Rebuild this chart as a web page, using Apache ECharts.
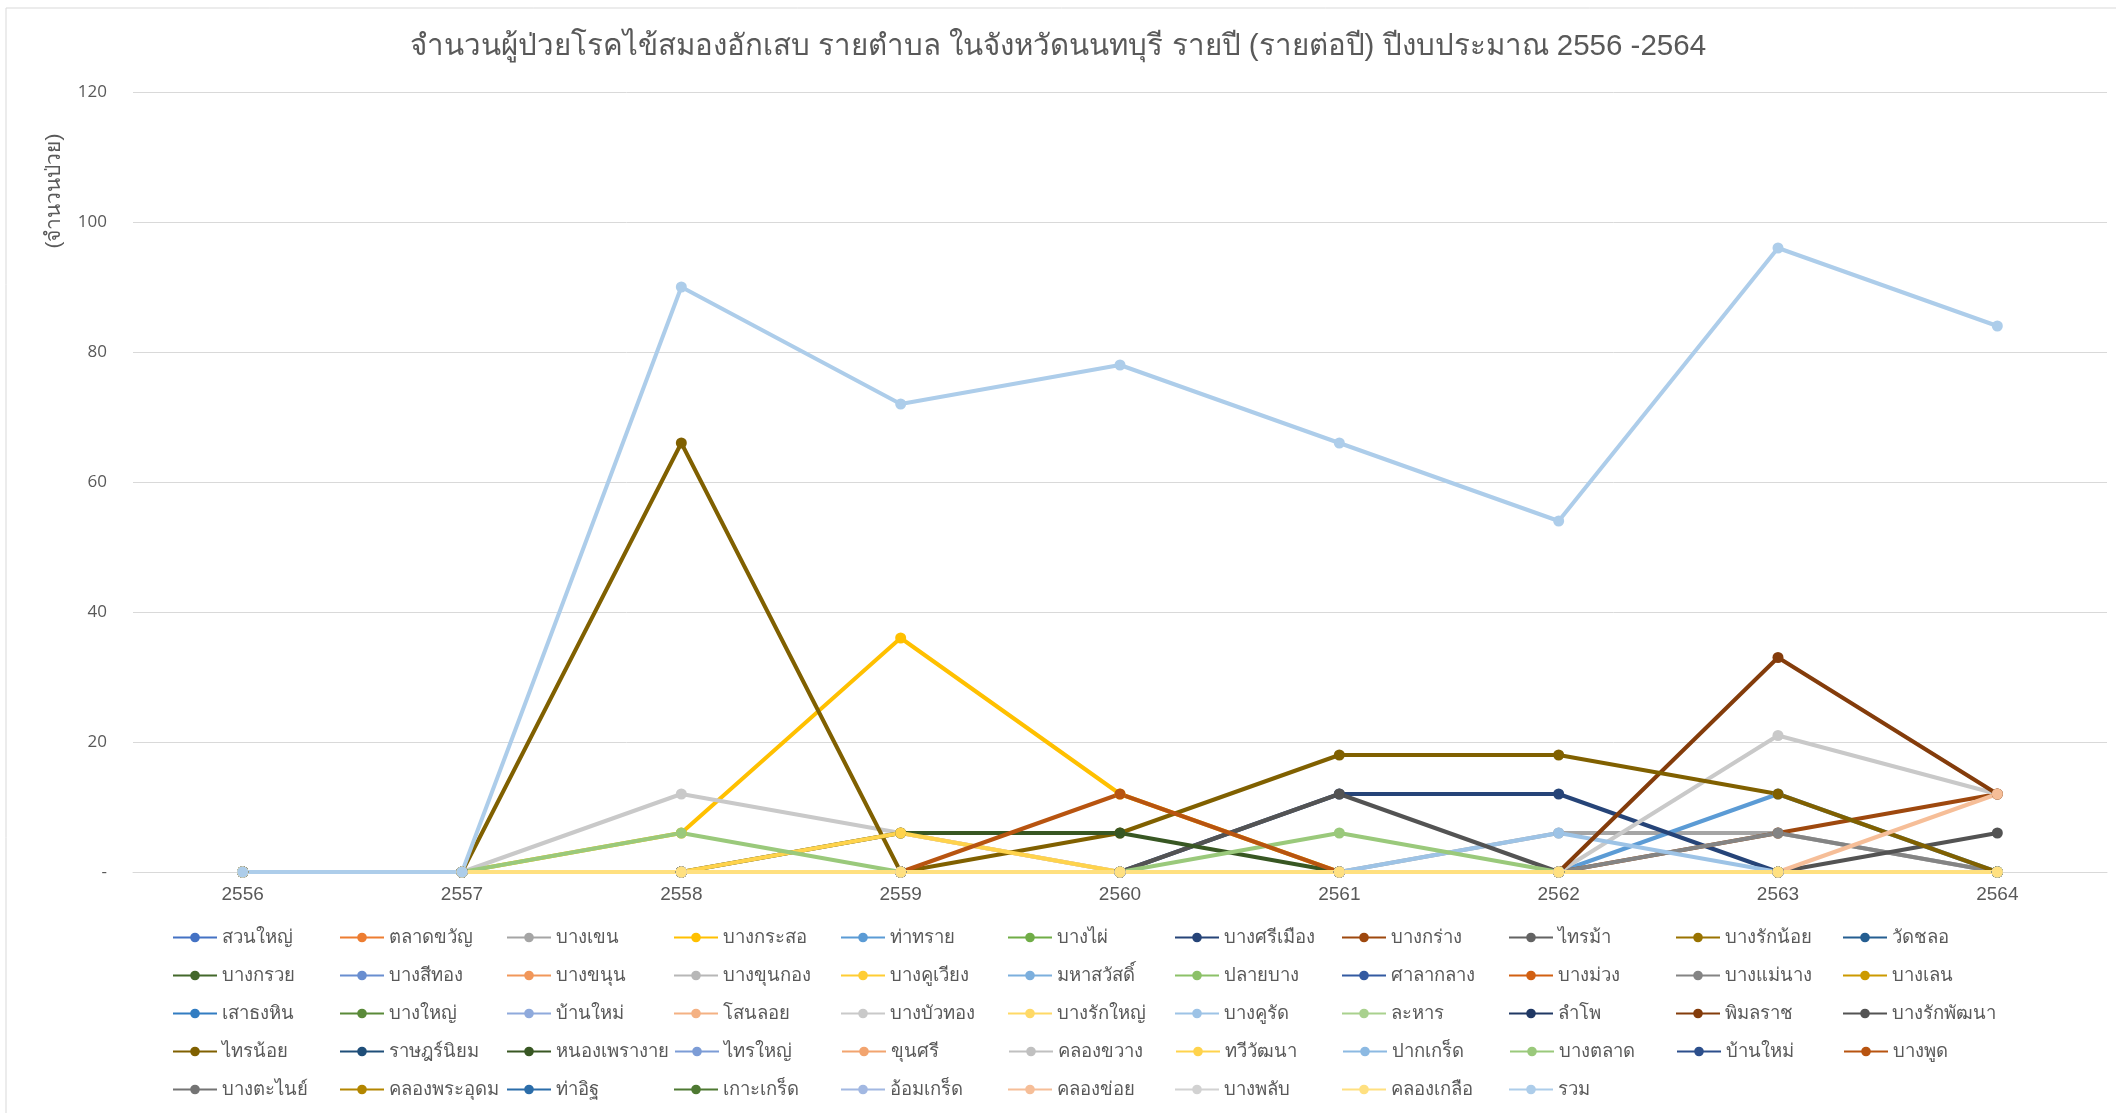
<!DOCTYPE html>
<html>
<head>
<meta charset="utf-8">
<script src="https://cdn.jsdelivr.net/npm/echarts@6/dist/echarts.min.js"></script>
<style>
html,body{margin:0;padding:0;background:#fff;}
#c{width:2116px;height:1113px;}
</style>
</head>
<body>
<div id="c"></div>
<script>
// ---------- data ----------
const years = ['2556','2557','2558','2559','2560','2561','2562','2563','2564'];
const names = [
  'สวนใหญ่','ตลาดขวัญ','บางเขน','บางกระสอ','ท่าทราย','บางไผ่','บางศรีเมือง','บางกร่าง','ไทรม้า','บางรักน้อย','วัดชลอ',
  'บางกรวย','บางสีทอง','บางขนุน','บางขุนกอง','บางคูเวียง','มหาสวัสดิ์','ปลายบาง','ศาลากลาง','บางม่วง','บางแม่นาง','บางเลน',
  'เสาธงหิน','บางใหญ่','บ้านใหม่','โสนลอย','บางบัวทอง','บางรักใหญ่','บางคูรัด','ละหาร','ลำโพ','พิมลราช','บางรักพัฒนา',
  'ไทรน้อย','ราษฎร์นิยม','หนองเพรางาย','ไทรใหญ่','ขุนศรี','คลองขวาง','ทวีวัฒนา','ปากเกร็ด','บางตลาด','บ้านใหม่ ','บางพูด',
  'บางตะไนย์','คลองพระอุดม','ท่าอิฐ','เกาะเกร็ด','อ้อมเกร็ด','คลองข่อย','บางพลับ','คลองเกลือ','รวม'
];
const zeroRow      = [0, 0,  0,  0,  0,  0,  0,  0,  0];
const bangKhen     = [0, 0,  0,  0,  0,  0,  6,  6,  0];
const bangKrasor   = [0, 0,  6, 36, 12,  0,  0,  0,  0];
const thaSai       = [0, 0,  0,  0,  0,  0,  0, 12,  0];
const bangSriMuang = [0, 0,  0,  0,  0, 12, 12,  0,  0];
const bangKrang    = [0, 0,  0,  0,  0,  0,  0,  6, 12];
const bangMaenang  = [0, 0,  0,  0,  0,  0,  0,  6,  0];
const sanoLoi      = [0, 0,  0,  6,  0,  0,  0,  0,  0];
const bangBuaThong = [0, 0, 12,  6,  0,  0,  0, 21, 12];
const bangKhuRat   = [0, 0,  0,  0,  0,  0,  6,  0,  0];
const phimonRat    = [0, 0,  0,  0,  0,  0,  0, 33, 12];
const bangRakPhatt = [0, 0,  0,  0,  0, 12,  0,  0,  6];
const saiNoi       = [0, 0, 66,  0,  6, 18, 18, 12,  0];
const nongPhrao    = [0, 0,  0,  6,  6,  0,  0,  0,  0];
const thawiWatthana= [0, 0,  0,  6,  0,  0,  0,  0,  0];
const bangTalat    = [0, 0,  6,  0,  0,  6,  0,  0,  0];
const bangPhut     = [0, 0,  0,  0, 12,  0,  0,  0,  0];
const khlongKhoi   = [0, 0,  0,  0,  0,  0,  0,  0, 12];
const total        = [0, 0, 90, 72, 78, 66, 54, 96, 84];
const valuesByIndex = {
  2: bangKhen, 3: bangKrasor, 4: thaSai, 6: bangSriMuang, 7: bangKrang, 20: bangMaenang,
  25: sanoLoi, 26: bangBuaThong, 28: bangKhuRat, 31: phimonRat, 32: bangRakPhatt,
  33: saiNoi, 35: nongPhrao, 39: thawiWatthana, 41: bangTalat, 43: bangPhut,
  49: khlongKhoi, 52: total
};

// ---------- colours (Office theme cycle) ----------
const accents = ['#4472C4','#ED7D31','#A5A5A5','#FFC000','#5B9BD5','#70AD47'];
const shades = [[1,0],[0.6,0],[0.8,0.2],[0.8,0],[0.6,0.4],[0.5,0],[0.7,0.3],[0.7,0],[0.5,0.5]];
function lum(hex, mod, off){
  let r=parseInt(hex.substr(1,2),16)/255,g=parseInt(hex.substr(3,2),16)/255,b=parseInt(hex.substr(5,2),16)/255;
  const mx=Math.max(r,g,b),mn=Math.min(r,g,b);let h=0,s=0,l=(mx+mn)/2;
  if(mx!==mn){const d=mx-mn;s=l>0.5?d/(2-mx-mn):d/(mx+mn);
    if(mx===r)h=((g-b)/d+(g<b?6:0));else if(mx===g)h=(b-r)/d+2;else h=(r-g)/d+4;h/=6;}
  l=Math.min(1,l*mod+off);
  function f(p,q,t){if(t<0)t+=1;if(t>1)t-=1;if(t<1/6)return p+(q-p)*6*t;if(t<1/2)return q;if(t<2/3)return p+(q-p)*(2/3-t)*6;return p;}
  let R,G,B;if(s===0){R=G=B=l;}else{const q=l<0.5?l*(1+s):l+s-l*s,p=2*l-q;R=f(p,q,h+1/3);G=f(p,q,h);B=f(p,q,h-1/3);}
  const hx=v=>('0'+Math.round(v*255).toString(16)).slice(-2);
  return '#'+hx(R)+hx(G)+hx(B);
}
const colors = names.map((n,i)=>{const sh=shades[Math.floor(i/6)];return lum(accents[i%6],sh[0],sh[1]);});

const FONT = 'sans-serif';
const series = names.map((n,i)=>({
  name:n, type:'line', data:(valuesByIndex[i]||zeroRow),
  symbol:'circle', symbolSize:11,
  lineStyle:{width:4,color:colors[i]}, itemStyle:{color:colors[i]},
  emphasis:{disabled:true}
}));

const chart = echarts.init(document.getElementById('c'));
chart.setOption({
  animation:false,
  backgroundColor:'#ffffff',
  color:colors,
  title:{
    text:'จำนวนผู้ป่วยโรคไข้สมองอักเสบ รายตำบล ในจังหวัดนนทบุรี รายปี (รายต่อปี) ปีงบประมาณ 2556 -2564',
    left:'center', top:27,
    textStyle:{color:'#595959',fontSize:29.5,fontWeight:'normal',fontFamily:FONT}
  },
  grid:{left:133,right:9,top:92,bottom:241,containLabel:false},
  xAxis:{
    type:'category', data:years, boundaryGap:true,
    axisLine:{lineStyle:{color:'#D9D9D9',width:1}},
    axisTick:{show:false},
    axisLabel:{color:'#595959',fontSize:19,margin:13,fontFamily:FONT}
  },
  yAxis:{
    type:'value', min:0, max:120, interval:20,
    axisLine:{show:false}, axisTick:{show:false},
    splitLine:{lineStyle:{color:'#D9D9D9',width:1}},
    axisLabel:{color:'#595959',fontSize:17,margin:26,fontFamily:'Open Sans',
      formatter:v=>v===0?'-':String(v)}
  },
  legend:{
    data:names, left:172, top:921, width:1960, padding:0,
    itemWidth:44, itemHeight:12, itemGap:5,
    textStyle:{color:'#595959',fontSize:18.5,width:112,overflow:'none',lineHeight:33,fontFamily:FONT}
  },
  graphic:[
    {type:'rect',shape:{x:6,y:8,width:2200,height:1200},style:{fill:'none',stroke:'#D9D9D9',lineWidth:1},silent:true},
    {type:'text',x:54,y:191,rotation:Math.PI/2,
     style:{text:'(จำนวนป่วย)',fill:'#595959',font:'21px sans-serif',align:'center',verticalAlign:'middle'}}
  ],
  series:series
});
</script>
</body>
</html>
